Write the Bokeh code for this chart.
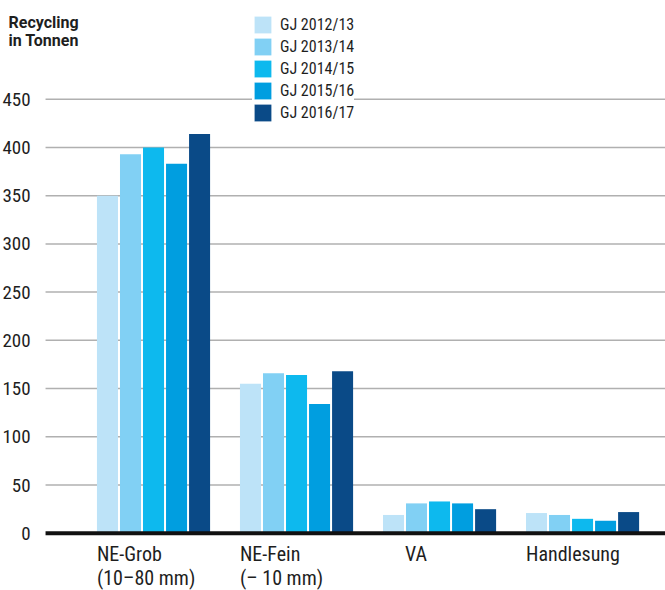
from bokeh.plotting import figure
from bokeh.models import (Legend, LegendItem, FixedTicker, Label, LinearAxis,
                          ColumnDataSource)
from bokeh.embed import file_html
from bokeh.resources import INLINE
from bokeh.core.properties import value

# Recycling volumes (tonnes) per material group and business year
categories = ["NE-Grob\n(10–80 mm)", "NE-Fein\n(– 10 mm)", "VA", "Handlesung"]
years = ["GJ 2012/13", "GJ 2013/14", "GJ 2014/15", "GJ 2015/16", "GJ 2016/17"]
gj_2012_13 = [350, 155, 19, 21]
gj_2013_14 = [393, 166, 31, 19]
gj_2014_15 = [400, 164, 33, 15]
gj_2015_16 = [383, 134, 31, 13]
gj_2016_17 = [414, 168, 25, 22]
y_ticks = [0, 50, 100, 150, 200, 250, 300, 350, 400, 450]

series = [gj_2012_13, gj_2013_14, gj_2014_15, gj_2015_16, gj_2016_17]
colors = ["#bde3f8", "#81d0f4", "#0db9ee", "#009ee0", "#0a4a87"]

FONT = "Roboto Condensed"
TEXT_COLOR = "#1e1e1e"

STEP = 0.161    # distance between neighbouring bars within a group
WIDTH = 0.147   # bar width
X_START, X_END = -1.07, 3.58
X_LEFT = -0.755  # left end of the value axis / grid lines

p = figure(width=665, height=590, output_backend="svg", toolbar_location=None,
           x_range=(X_START, X_END), y_range=(-59.3, 552.3),
           x_axis_location=None, y_axis_location=None,
           min_border_left=0, min_border_right=0, min_border_top=0, min_border_bottom=0)
p.outline_line_color = None
p.background_fill_color = "white"
p.border_fill_color = "white"
p.xgrid.grid_line_color = None
p.ygrid.grid_line_color = None

# horizontal grid lines, starting at the value axis
grid_y = y_ticks[1:]
p.segment(x0=[X_LEFT] * len(grid_y), x1=[X_END] * len(grid_y), y0=grid_y, y1=grid_y,
          line_color="#b0b0b0", line_width=1.5)

renderers = []
for k, vals in enumerate(series):
    xs = [i + (k - 2) * STEP for i in range(len(categories))]
    r = p.vbar(x=xs, top=vals, bottom=0, width=WIDTH, fill_color=colors[k],
               line_color=None)
    renderers.append(r)

# zero line
p.segment(x0=[X_LEFT], x1=[X_END], y0=[0], y1=[0], line_color="#111111", line_width=4)

# value axis, placed inside the frame so the caption can sit at the far left
yaxis = LinearAxis(fixed_location=X_LEFT, ticker=FixedTicker(ticks=y_ticks))
yaxis.axis_line_color = None
yaxis.major_tick_line_color = None
yaxis.minor_tick_line_color = None
yaxis.major_label_standoff = 9
yaxis.major_label_text_font = FONT
yaxis.major_label_text_font_size = "19px"
yaxis.major_label_text_color = TEXT_COLOR
p.add_layout(yaxis, "left")

# category labels under each group
label_src = ColumnDataSource(dict(
    x=[i - 2 * STEP - WIDTH / 2 for i in range(len(categories))],
    y=[-9.5] * len(categories),
    text=categories,
    dx=[0, 0, 22, 0],
))
p.text(x="x", y="y", text="text", x_offset="dx", source=label_src,
       text_align="left", text_baseline="top", text_font=value(FONT),
       text_font_size="20px", text_line_height=1.0, text_color=TEXT_COLOR)

# unit caption
p.add_layout(Label(x=8, y=578, x_units="screen", y_units="screen",
                   text="Recycling\nin Tonnen", text_font="Roboto",
                   text_font_style="bold", text_font_size="16px",
                   text_color=TEXT_COLOR, text_baseline="top", text_line_height=0.96))

legend = Legend(items=[LegendItem(label=years[k], renderers=[renderers[k]])
                       for k in range(len(years))],
                location=(252, 467), orientation="vertical",
                glyph_width=21, glyph_height=21, spacing=1, padding=13,
                label_standoff=7, label_height=21,
                label_text_font=FONT, label_text_font_size="16px",
                label_text_color=TEXT_COLOR,
                border_line_color=None, background_fill_color="white",
                background_fill_alpha=1.0)
p.add_layout(legend)

open("out.html", "w").write(file_html(p, INLINE))
